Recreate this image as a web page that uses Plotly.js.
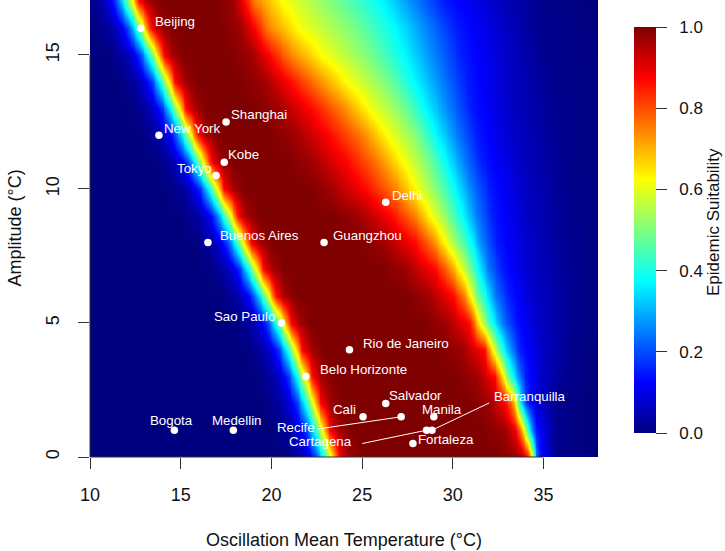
<!DOCTYPE html>
<html>
<head>
<meta charset="utf-8">
<script src="https://cdn.plot.ly/plotly-3.0.1.min.js"></script>
<style>html,body{margin:0;padding:0;background:#fff;}#chart{width:725px;height:551px;}</style>
</head>
<body>
<div id="chart"></div>
<script>
// ---------------- data ----------------
// Amplitude rows (°C) at which the suitability profile was read
const amplitudeRows = [0,1,2,3,4,5,6,7,8,9,10,11,12,13,14,15,16,17];

// Rising (cold) edge: suitability levels and the mean temperatures where each level is reached
const riseLevels = [0, 0.04, 0.10, 0.18, 0.38, 0.62, 0.87, 0.96, 1.0];
const riseT = [
  [20.65, 21.55, 22.05, 22.40, 22.85, 23.30, 23.70, 24.15, 24.85],
  [20.15, 21.05, 21.55, 21.90, 22.35, 22.80, 23.20, 23.65, 24.35],
  [19.65, 20.55, 21.05, 21.40, 21.85, 22.30, 22.70, 23.15, 23.85],
  [19.20, 20.10, 20.60, 20.95, 21.40, 21.85, 22.25, 22.70, 23.40],
  [18.65, 19.55, 20.05, 20.40, 20.85, 21.30, 21.70, 22.15, 22.85],
  [18.00, 18.90, 19.40, 19.75, 20.20, 20.65, 21.05, 21.50, 22.20],
  [17.20, 18.10, 18.60, 18.95, 19.40, 19.85, 20.25, 20.70, 21.40],
  [16.50, 17.40, 17.90, 18.25, 18.70, 19.15, 19.55, 20.00, 20.70],
  [15.80, 16.70, 17.20, 17.55, 18.00, 18.45, 18.85, 19.30, 20.00],
  [15.10, 16.00, 16.50, 16.85, 17.30, 17.75, 18.15, 18.60, 19.30],
  [14.35, 15.25, 15.75, 16.10, 16.55, 17.00, 17.40, 17.85, 18.55],
  [13.60, 14.50, 15.00, 15.35, 15.80, 16.25, 16.65, 17.10, 17.80],
  [12.90, 13.80, 14.30, 14.65, 15.10, 15.55, 15.95, 16.40, 17.10],
  [12.25, 13.15, 13.65, 14.00, 14.45, 14.90, 15.30, 15.75, 16.45],
  [11.65, 12.55, 13.05, 13.40, 13.85, 14.30, 14.70, 15.15, 15.85],
  [11.00, 11.90, 12.40, 12.75, 13.20, 13.65, 14.05, 14.50, 15.20],
  [10.30, 11.20, 11.70, 12.05, 12.50, 12.95, 13.35, 13.80, 14.50],
  [ 9.65, 10.55, 11.05, 11.40, 11.85, 12.30, 12.70, 13.15, 13.85]
];

// Falling (hot) edge: suitability levels and the mean temperatures where each level is reached
const fallLevels = [1.0, 0.97, 0.87, 0.75, 0.62, 0.5, 0.38, 0.25, 0.15, 0.07, 0.015, 0];
const fallT = [
  [32.5, 33.7, 34.1, 34.25, 34.35, 34.42, 34.5, 34.6, 34.75, 35.3, 35.6, 37.0],
  [31.6, 32.9, 33.5, 33.7, 33.9, 34.05, 34.2, 34.35, 34.55, 35.2, 35.7, 37.2],
  [30.8, 32.0, 32.9, 33.25, 33.45, 33.58, 33.7, 33.9, 34.15, 34.8, 35.7, 37.4],
  [30.0, 31.3, 32.3, 32.55, 32.8, 33.0, 33.3, 33.65, 34.0, 34.9, 36.2, 37.6],
  [29.2, 30.5, 31.7, 31.95, 32.2, 32.5, 32.8, 33.25, 33.7, 34.9, 36.4, 37.8],
  [28.3, 29.6, 30.9, 31.2, 31.5, 31.8, 32.2, 32.7, 33.4, 34.7, 36.6, 38.0],
  [27.3, 28.6, 30.0, 30.6, 31.0, 31.3, 31.8, 32.3, 33.1, 34.5, 36.7, 38.2],
  [26.0, 27.4, 29.0, 29.8, 30.4, 30.9, 31.4, 31.9, 32.7, 34.3, 36.6, 38.2],
  [24.8, 26.2, 27.9, 28.9, 29.6, 30.3, 31.0, 31.6, 32.4, 34.2, 36.4, 38.2],
  [23.4, 24.8, 26.6, 27.9, 28.8, 29.7, 30.5, 31.3, 32.2, 34.0, 36.3, 38.2],
  [22.0, 23.2, 25.2, 26.8, 28.0, 29.1, 30.1, 31.0, 32.0, 33.9, 36.1, 38.2],
  [20.8, 22.2, 24.2, 25.9, 27.3, 28.6, 29.6, 30.6, 31.6, 33.6, 36.0, 38.2],
  [19.8, 21.3, 23.2, 25.0, 26.4, 28.0, 29.0, 30.2, 31.3, 33.3, 35.9, 38.2],
  [18.9, 20.4, 22.2, 23.9, 25.4, 27.2, 28.4, 29.8, 31.0, 33.1, 35.7, 38.2],
  [18.1, 19.6, 21.0, 22.5, 24.2, 26.3, 27.8, 29.4, 30.8, 33.0, 35.4, 38.2],
  [17.5, 18.9, 19.9, 21.0, 22.8, 25.3, 27.2, 29.0, 30.5, 33.0, 35.1, 38.0],
  [17.1, 18.3, 19.1, 19.8, 21.5, 24.4, 26.7, 28.6, 30.2, 32.8, 34.8, 37.8],
  [16.9, 17.9, 18.5, 19.1, 20.6, 23.3, 25.9, 27.9, 29.5, 32.3, 34.6, 37.5]
];

// Cities: oscillation mean temperature (°C) and amplitude (°C)
const cityNames = ["Beijing","New York","Shanghai","Kobe","Tokyo","Delhi","Buenos Aires","Guangzhou",
  "Sao Paulo","Rio de Janeiro","Belo Horizonte","Salvador","Cali","Recife","Manila",
  "Bogota","Medellin","Cartagena","Barranquilla","Fortaleza"];
const cityTemp = [12.8, 13.8, 17.5, 17.4, 16.95, 26.3, 16.5, 22.9,
  20.55, 24.3, 21.9, 26.3, 25.05, 27.15, 28.95,
  14.65, 17.9, 28.55, 28.85, 27.8];
const cityAmp = [16.0, 12.0, 12.5, 11.0, 10.5, 9.5, 8.0, 8.0,
  5.0, 4.0, 3.0, 2.0, 1.5, 1.5, 1.5,
  1.0, 1.0, 1.0, 1.0, 0.5];

const xTicks = [10, 15, 20, 25, 30, 35];
const yTicks = [0, 5, 10, 15];
const cbTicks = [0, 0.2, 0.4, 0.6, 0.8, 1.0];

// ---------------- styling / placement (pixels) ----------------
const FONT = "Liberation Sans, Arial, Helvetica, sans-serif";
const labelPlace = {
  "Beijing": {dx: 12.7, dy: 6.7, a: "left"},
  "New York": {dx: 4.3, dy: 7.3, a: "left"},
  "Shanghai": {dx: 4, dy: 7, a: "left"},
  "Kobe": {dx: 2.7, dy: 7.3, a: "left"},
  "Tokyo": {dx: -2.7, dy: 6.7, a: "right"},
  "Delhi": {dx: 5, dy: 6.7, a: "left"},
  "Buenos Aires": {dx: 11, dy: 7, a: "left"},
  "Guangzhou": {dx: 8, dy: 7, a: "left"},
  "Sao Paulo": {dx: -5.7, dy: 6.7, a: "right"},
  "Rio de Janeiro": {dx: 12.7, dy: 6.7, a: "left"},
  "Belo Horizonte": {dx: 13, dy: 7.3, a: "left"},
  "Salvador": {dx: 2.7, dy: 8, a: "left"},
  "Cali": {dx: -6.3, dy: 7.3, a: "right"},
  "Recife": {dx: -85.3, dy: -11, a: "right"},
  "Manila": {dx: -13.3, dy: 7, a: "left"},
  "Bogota": {dx: -2.7, dy: 9.3, a: "center"},
  "Medellin": {dx: 4, dy: 9.3, a: "center"},
  "Cartagena": {dx: -73.7, dy: -11.7, a: "right"},
  "Barranquilla": {dx: 60.7, dy: 33.7, a: "left"},
  "Fortaleza": {dx: 4, dy: 4, a: "left"}
};
// leader lines: start offset from the dot (px, y up)
const leaders = {
  "Recife": {dx: -84, dy: -12.3},
  "Cartagena": {dx: -64.3, dy: -13.3},
  "Barranquilla": {dx: 57.3, dy: 27.3}
};

// ---------------- build the heatmap table ----------------
const gridT = [];
for (let i = 0; i <= 280; i++) gridT.push(Math.round((10 + i * 0.1) * 100) / 100);

const zGrid = amplitudeRows.map((a, r) => {
  const T = riseT[r].concat(fallT[r]);
  const Z = riseLevels.concat(fallLevels);
  return gridT.map(x => {
    if (x <= T[0]) return Z[0];
    if (x >= T[T.length - 1]) return Z[Z.length - 1];
    for (let k = 0; k < T.length - 1; k++) {
      if (x >= T[k] && x <= T[k + 1]) {
        const span = T[k + 1] - T[k];
        if (span <= 0) return Z[k + 1];
        return Z[k] + (Z[k + 1] - Z[k]) * (x - T[k]) / span;
      }
    }
    return 0;
  });
});

const jet = [
  [0, "#00007F"], [0.125, "#0000FF"], [0.25, "#007FFF"], [0.375, "#00FFFF"],
  [0.5, "#7FFF7F"], [0.625, "#FFFF00"], [0.75, "#FF7F00"], [0.875, "#FF0000"], [1, "#7F0000"]
];

const PLOT_L = 90, PLOT_R = 598, PLOT_T = 0, PLOT_B = 457;
const PW = PLOT_R - PLOT_L, PH = PLOT_B - PLOT_T;

const heat = {
  type: "heatmap",
  x: gridT,
  y: amplitudeRows,
  z: zGrid,
  zmin: 0, zmax: 1,
  zsmooth: "best",
  colorscale: jet,
  hoverinfo: "skip",
  colorbar: {
    thickness: 22, thicknessmode: "pixels",
    len: 406, lenmode: "pixels",
    x: (634 - PLOT_L) / PW, xanchor: "left", xpad: 0,
    y: (PLOT_B - 230) / PH, yanchor: "middle", ypad: 0,
    outlinewidth: 0,
    tickvals: cbTicks,
    ticktext: cbTicks.map(v => "\u00a0\u00a0" + v.toFixed(1)),
    ticks: "outside", ticklen: 11, tickwidth: 1, tickcolor: "#333",
    tickfont: {family: FONT, size: 17, color: "#111"},
    title: {text: ""}
  }
};

const cities = {
  type: "scatter",
  mode: "markers",
  x: cityTemp,
  y: cityAmp,
  marker: {color: "#ffffff", size: 7.5, line: {width: 0}},
  hoverinfo: "text",
  text: cityNames,
  cliponaxis: false
};

const annotations = cityNames.map((n, i) => {
  const p = labelPlace[n];
  return {
    x: cityTemp[i], y: cityAmp[i], xref: "x", yref: "y",
    text: n, showarrow: false,
    xanchor: p.a, yanchor: "middle",
    xshift: p.dx, yshift: p.dy, borderpad: 0,
    font: {family: FONT, size: 13.3, color: "#ffffff"}
  };
});

annotations.push({
  xref: "paper", yref: "paper", x: 0.5, y: (PLOT_B - 540) / PH,
  text: "Oscillation Mean Temperature (°C)", showarrow: false,
  xanchor: "center", yanchor: "middle",
  font: {family: FONT, size: 18, color: "#111"}
});
annotations.push({
  xref: "paper", yref: "paper", x: (14 - PLOT_L) / PW, y: 0.5,
  text: "Amplitude (°C)", showarrow: false, textangle: -90,
  xanchor: "center", yanchor: "middle",
  font: {family: FONT, size: 18, color: "#111"}
});
annotations.push({
  xref: "paper", yref: "paper", x: (713 - PLOT_L) / PW, y: (PLOT_B - 222) / PH,
  text: "Epidemic Suitability", showarrow: false, textangle: -90,
  xanchor: "center", yanchor: "middle",
  font: {family: FONT, size: 17, color: "#111"}
});

const shapes = [];
Object.keys(leaders).forEach(n => {
  const i = cityNames.indexOf(n);
  const l = leaders[n];
  shapes.push({
    type: "line", layer: "above",
    xref: "x", yref: "y",
    xsizemode: "pixel", ysizemode: "pixel",
    xanchor: cityTemp[i], yanchor: cityAmp[i],
    x0: l.dx, y0: l.dy, x1: 0, y1: 0,
    line: {color: "#ffffff", width: 1}
  });
});
// R-style axis lines spanning first to last tick
shapes.push({type: "line", xref: "x", yref: "paper", x0: xTicks[0], x1: xTicks[xTicks.length - 1], y0: 0, y1: 0,
  line: {color: "#333", width: 1}});
shapes.push({type: "line", xref: "paper", yref: "y", x0: 0, x1: 0, y0: yTicks[0], y1: yTicks[yTicks.length - 1],
  line: {color: "#333", width: 1}});

const layout = {
  width: 725, height: 551,
  margin: {l: PLOT_L, r: 725 - PLOT_R, t: PLOT_T, b: 551 - PLOT_B, pad: 0},
  paper_bgcolor: "#ffffff", plot_bgcolor: "#ffffff",
  showlegend: false,
  font: {family: FONT, size: 18, color: "#111"},
  xaxis: {
    range: [10, 38], tickvals: xTicks, ticktext: xTicks.map(String),
    ticks: "outside", ticklen: 11, tickwidth: 1, tickcolor: "#333",
    showgrid: false, zeroline: false, showline: false,
    tickfont: {family: FONT, size: 18, color: "#111"},
    ticklabelstandoff: 10
  },
  yaxis: {
    range: [0, 17.05], tickvals: yTicks, ticktext: yTicks.map(String),
    ticks: "outside", ticklen: 11, tickwidth: 1, tickcolor: "#333",
    tickangle: -90,
    showgrid: false, zeroline: false, showline: false,
    tickfont: {family: FONT, size: 18, color: "#111"},
    ticklabelstandoff: 12
  },
  annotations: annotations,
  shapes: shapes
};

Plotly.newPlot("chart", [heat, cities], layout, {displayModeBar: false, staticPlot: true});
</script>
</body>
</html>
